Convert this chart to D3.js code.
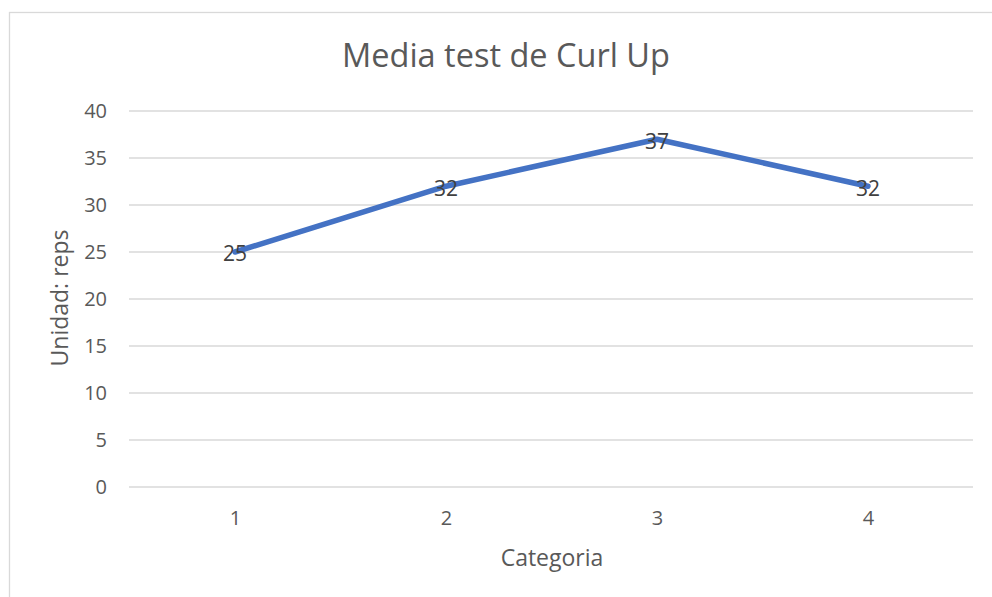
<!DOCTYPE html>
<meta charset="utf-8">
<head>
    <title>Media test de Curl Up</title>
</head>
<style>
body { margin: 0; background: #fff; }
text { font-family: 'Open Sans', 'Noto Sans', sans-serif; }
</style>
<svg width="992" height="597"></svg>
<script src="https://d3js.org/d3.v7.min.js"></script>
<script>

const categories = ['1', '2', '3', '4'];
const values = [25, 32, 37, 32];
const yTicks = [0, 5, 10, 15, 20, 25, 30, 35, 40];

const svg = d3.select('svg');

// chart area border
svg.append('rect')
    .attr('x', 9.5)
    .attr('y', 12.5)
    .attr('width', 1000)
    .attr('height', 700)
    .attr('fill', 'none')
    .attr('stroke', '#d9d9d9')
    .attr('stroke-width', 1.3);

const x = d3.scalePoint()
    .domain(categories)
    .range([235, 868]);

const y = d3.scaleLinear()
    .domain([0, 40])
    .range([487, 111]);

// gridlines
svg.append('g')
    .selectAll('line')
    .data(yTicks)
    .enter()
    .append('line')
    .attr('x1', 129)
    .attr('x2', 973)
    .attr('y1', d => y(d))
    .attr('y2', d => y(d))
    .attr('stroke', '#d9d9d9')
    .attr('stroke-width', 1.3);

// y tick labels
const yAxis = svg.append('g')
    .attr('transform', 'translate(107,0)')
    .call(d3.axisLeft(y).tickValues(yTicks).tickSize(0).tickPadding(0));
yAxis.select('.domain').remove();
yAxis.selectAll('text')
    .attr('font-size', 20)
    .attr('fill', '#595959')
    .style('font-family', "'Open Sans', sans-serif");

// x tick labels
const xAxis = svg.append('g')
    .attr('transform', 'translate(0,511)')
    .call(d3.axisBottom(x).tickSize(0).tickPadding(0));
xAxis.select('.domain').remove();
xAxis.selectAll('text')
    .attr('font-size', 20)
    .attr('fill', '#595959')
    .style('font-family', "'Open Sans', sans-serif");

// line
const line = d3.line()
    .x((d, i) => x(categories[i]))
    .y(d => y(d));

svg.append('path')
    .datum(values)
    .attr('d', line)
    .attr('fill', 'none')
    .attr('stroke', '#4472c4')
    .attr('stroke-width', 5.5)
    .attr('stroke-linejoin', 'round')
    .attr('stroke-linecap', 'round');

// data labels
svg.append('g')
    .selectAll('text')
    .data(values)
    .enter()
    .append('text')
    .attr('x', (d, i) => x(categories[i]))
    .attr('y', d => y(d) + 2)
    .attr('dy', '0.35em')
    .attr('text-anchor', 'middle')
    .attr('font-size', 21)
    .attr('fill', '#404040')
    .text(d => d);

// title
svg.append('text')
    .attr('x', 506)
    .attr('y', 67)
    .attr('text-anchor', 'middle')
    .attr('font-size', 32.5)
    .attr('fill', '#595959')
    .text('Media test de Curl Up');

// axis titles
svg.append('text')
    .attr('x', 552)
    .attr('y', 566)
    .attr('text-anchor', 'middle')
    .attr('font-size', 23)
    .attr('fill', '#595959')
    .text('Categoria');

svg.append('text')
    .attr('transform', 'translate(68,298) rotate(-90)')
    .attr('text-anchor', 'middle')
    .attr('font-size', 23)
    .attr('fill', '#595959')
    .text('Unidad: reps');

</script>
